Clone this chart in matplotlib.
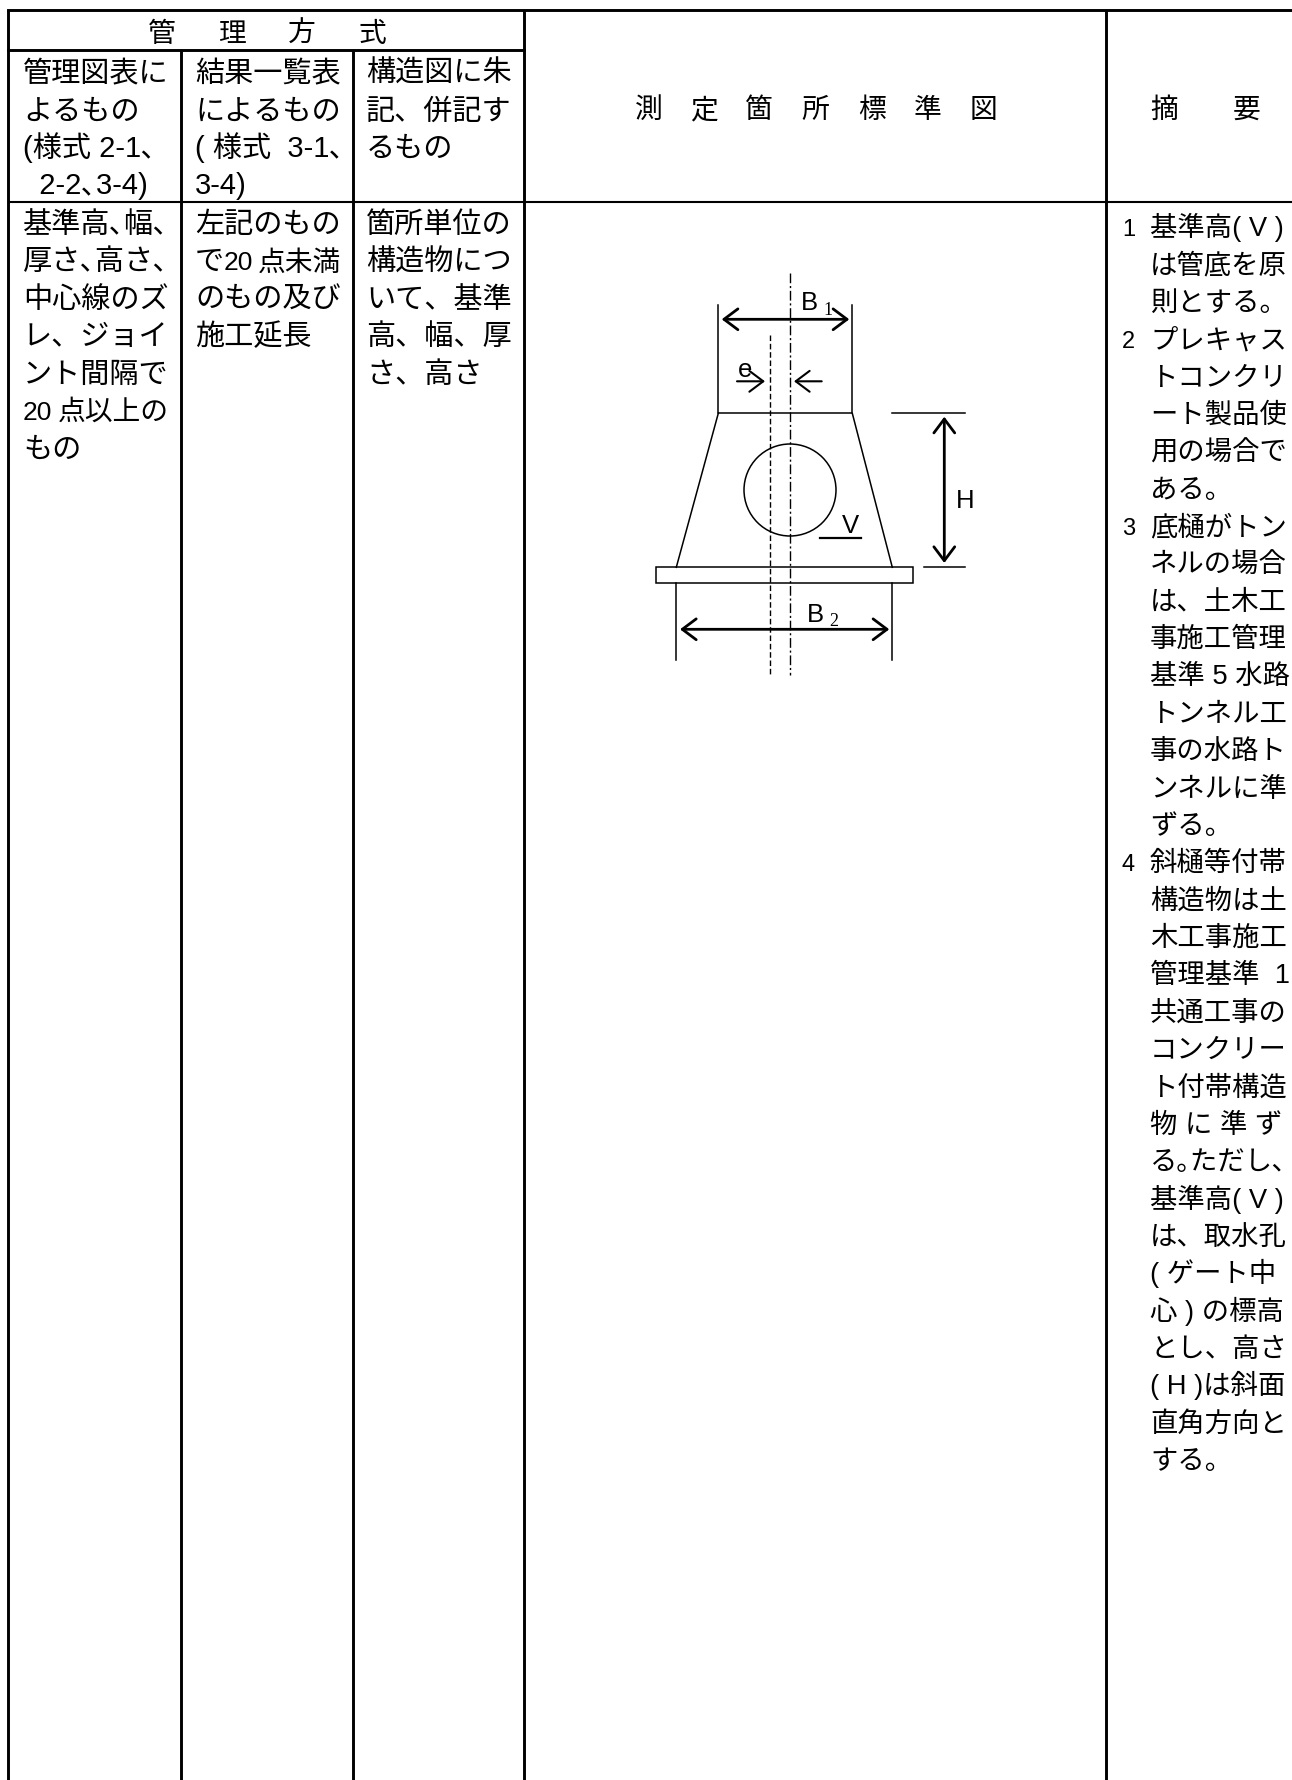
import matplotlib
matplotlib.use("Agg")
import matplotlib.pyplot as plt
from matplotlib.patches import Circle, Rectangle

plt.rcParams["font.family"] = ["Liberation Sans", "Noto Sans CJK JP"]

# ---- table rules (x, y0, y1) / (y, x0, x1)
heavy_v = [(8, 10, 1780), (181, 50, 1780), (353, 50, 1780), (524, 10, 1780), (1106, 10, 1780)]
heavy_h = [(10, 8, 1292), (50, 8, 524)]
thin_h = [(202, 8, 1292)]

# ---- table text
head_chars = ["管", "理", "方", "式"]
head_x = [148, 218, 288, 358]
mid_chars = ["測", "定", "箇", "所", "標", "準", "図"]
mid_x = [635, 690, 745, 801, 858, 914, 970]
note_chars = ["摘", "要"]
note_x = [1150, 1233]

col1_head = ["管理図表に", "よるもの", "(様式 2-1､", "  2-2､3-4)"]
col2_head = ["結果一覧表", "によるもの", "( 様式  3-1､", "3-4)"]
col3_head = ["構造図に朱", "記、併記す", "るもの"]
col1_body = ["基準高､幅､", "厚さ､高さ､", "中心線のズ", "レ、ジョイ", "ント間隔で", "", "もの"]
col2_body = ["左記のもの", "", "のもの及び", "施工延長"]
col3_body = ["箇所単位の", "構造物につ", "いて、基準", "高、幅、厚", "さ、高さ"]

# lines with squeezed digits: (text, x, row, size)
col1_squeezed = [("20", 23, 5, 19), ("点以上の", 58, 5, 20)]
col2_squeezed = [("で", 195, 1, 21), ("20", 224, 1, 19), ("点未満", 258, 1, 20)]

note_numbers = [(0, "1"), (3, "2"), (8, "3"), (17, "4")]
note_body = [
    "基準高( V )", "は管底を原", "則とする。", "プレキャス", "トコンクリ", "ート製品使",
    "用の場合で", "ある。", "底樋がトン", "ネルの場合", "は、土木工", "事施工管理",
    "基準 5 水路", "トンネル工", "事の水路ト", "ンネルに準", "ずる。", "斜樋等付帯",
    "構造物は土", "木工事施工", "管理基準  1", "共通工事の", "コンクリー", "ト付帯構造",
    "物 に 準 ず", "る｡ただし､", "基準高( V )", "は、取水孔", "( ゲート中", "心 ) の標高",
    "とし、高さ", "( H )は斜面", "直角方向と", "する。",
]

# ---- diagram geometry
section_top = [(718.3, 305), (718.3, 413.3), (852.3, 413.3), (852.3, 305)]
section_left = [(718.3, 413.3), (676.3, 567.3)]
section_right = [(852.3, 413.3), (892.3, 567.3)]
lower_left = [(676.3, 583.3), (676.3, 660)]
lower_right = [(892.3, 583.3), (892.3, 660)]
h_top = [(892.3, 413.3), (964.7, 413.3)]
h_bottom = [(924, 567.3), (964.7, 567.3)]
v_mark = [(820, 538), (861, 538)]
center_x, center_y0, center_y1 = 790.3, 273, 675
offset_x, offset_y0, offset_y1 = 770.3, 335, 675
pipe_xy, pipe_r = (790, 490), 46
base_xy, base_w, base_h = (656, 567.3), 256.7, 16

arrows = [
    ("<->", (721.7, 319.3), (849.3, 319.3)),
    ("<->", (680, 629.3), (889.3, 629.3)),
    ("<->", (944.3, 416.7), (944.3, 563)),
    ("->", (737, 381.3), (765, 381.3)),
    ("->", (821.7, 381.3), (794, 381.3)),
]
labels = [("B", 800.7, 310), ("e", 738.3, 376.7), ("H", 956, 508), ("V", 842, 532.7), ("B", 806.7, 621.7)]
subscripts = [("1", 823, 315), ("2", 829, 626)]

BLACK = "#000000"
FS = 21
HEAD_FS = 20
ROW = 37.4


def write_lines(ax, lines, x, y0, step, size=FS):
    for i, line in enumerate(lines):
        ax.text(x, y0 + i * step, line, fontsize=size, va="baseline", ha="left", color=BLACK)


fig = plt.figure(figsize=(12.92, 17.8), dpi=100, facecolor="white")
ax = fig.add_axes([0, 0, 1, 1])
ax.set_xlim(0, 1292)
ax.set_ylim(1780, 0)
ax.axis("off")

# ---- table
for x, y0, y1 in heavy_v:
    ax.plot([x, x], [y0, y1], color=BLACK, lw=2.1, solid_capstyle="butt")
for y, x0, x1 in heavy_h:
    ax.plot([x0, x1], [y, y], color=BLACK, lw=2.1, solid_capstyle="projecting")
for y, x0, x1 in thin_h:
    ax.plot([x0, x1], [y, y], color=BLACK, lw=1.5, solid_capstyle="butt")

for chars, xs, base in [(head_chars, head_x, 42), (mid_chars, mid_x, 118), (note_chars, note_x, 118)]:
    for ch, x in zip(chars, xs):
        ax.text(x, base, ch, fontsize=HEAD_FS, va="baseline", ha="left", color=BLACK)

write_lines(ax, col1_head, 23, 82, ROW)
write_lines(ax, col2_head, 195, 82, ROW)
write_lines(ax, col3_head, 366, 82, ROW)
write_lines(ax, col1_body, 23, 233, ROW)
write_lines(ax, col2_body, 195, 233, ROW)
write_lines(ax, col3_body, 366, 233, ROW)
for text, x, row, size in col1_squeezed + col2_squeezed:
    ax.text(x, 233 + row * ROW, text, fontsize=size, va="baseline", ha="left", color=BLACK)

write_lines(ax, note_body, 1150, 236, 37.37, size=19.7)
for row, num in note_numbers:
    ax.text(1122, 236 + row * 37.37, num, fontsize=17, va="baseline", ha="left", color=BLACK)

# ---- diagram
for seg in [section_top, section_left, section_right, lower_left, lower_right, h_top, h_bottom]:
    ax.plot([p[0] for p in seg], [p[1] for p in seg], color=BLACK, lw=1.1, solid_joinstyle="miter")
ax.plot([p[0] for p in v_mark], [p[1] for p in v_mark], color=BLACK, lw=1.6)
ax.plot([center_x, center_x], [center_y0, center_y1], color=BLACK, lw=1.0, linestyle=(0, (7, 2, 1.5, 2)))
ax.plot([offset_x, offset_x], [offset_y0, offset_y1], color=BLACK, lw=1.0, linestyle=(0, (4, 2)))
ax.add_patch(Circle(pipe_xy, pipe_r, fill=False, edgecolor=BLACK, lw=1.1))
ax.add_patch(Rectangle(base_xy, base_w, base_h, fill=False, edgecolor=BLACK, lw=1.1))

for style, start, end in arrows:
    lw = 2.0 if style == "<->" else 1.5
    ax.annotate("", xy=end, xytext=start, arrowprops=dict(
        arrowstyle=style + ",head_length=1.0,head_width=0.75", color=BLACK, lw=lw,
        shrinkA=0, shrinkB=0, mutation_scale=10))

for s, x, y in labels:
    ax.text(x, y, s, fontsize=18.5, va="baseline", ha="left", color=BLACK)
for s, x, y in subscripts:
    ax.text(x, y, s, fontsize=13, va="baseline", ha="left", color=BLACK, family="Liberation Serif")

fig.savefig("out.png", dpi=100, facecolor="white")
